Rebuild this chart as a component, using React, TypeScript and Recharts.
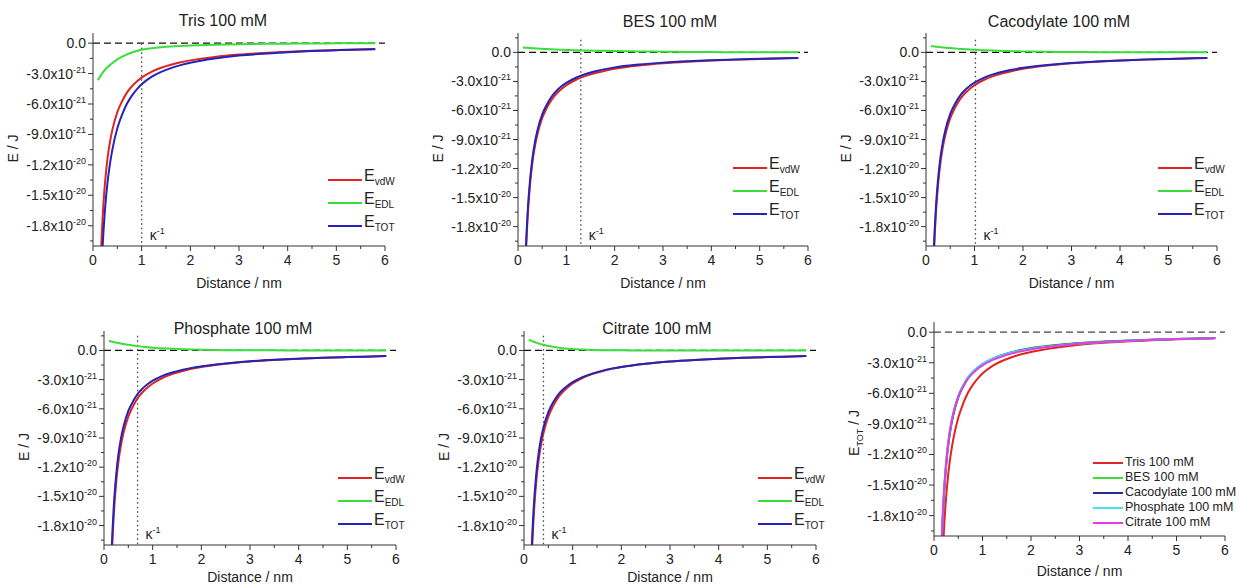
import React from 'react';
import { LineChart, Line, XAxis, YAxis, ReferenceLine, Legend } from 'recharts';

// distance between particles, nm
const distance = [0.1, 0.15, 0.2, 0.25, 0.3, 0.35, 0.4, 0.5, 0.6, 0.7, 0.8, 0.9, 1.0, 1.2, 1.4, 1.6, 1.8, 2.0, 2.5, 3.0, 3.5, 4.0, 4.5, 5.0, 5.5, 5.8];

// all energies below in units of 1e-21 J
const vdW = [-34, -22.7, -17, -13.6, -11.3, -9.7, -8.5, -6.8, -5.7, -4.85, -4.25, -3.78, -3.4, -2.83, -2.43, -2.13, -1.89, -1.7, -1.36, -1.13, -0.97, -0.85, -0.75, -0.68, -0.62, -0.58];

const edlTris = [-3.65, -3.25, -2.9, -2.6, -2.35, -2.15, -1.95, -1.6, -1.32, -1.1, -0.92, -0.78, -0.66, -0.5, -0.4, -0.33, -0.28, -0.24, -0.16, -0.1, -0.07, -0.05, -0.03, -0.02, -0.01, -0.01];
const totTris = [-37.65, -25.95, -19.9, -16.2, -13.65, -11.85, -10.45, -8.4, -7.02, -5.95, -5.17, -4.56, -4.06, -3.33, -2.83, -2.46, -2.17, -1.94, -1.52, -1.23, -1.04, -0.9, -0.78, -0.7, -0.63, -0.59];

const edlBes = [0.5, 0.48, 0.47, 0.45, 0.43, 0.42, 0.4, 0.37, 0.34, 0.32, 0.29, 0.27, 0.25, 0.21, 0.19, 0.17, 0.16, 0.15, 0.1, 0.07, 0.05, 0.03, 0.02, 0.01, 0.01, 0];
const totBes = [-33.5, -22.22, -16.53, -13.15, -10.87, -9.28, -8.1, -6.43, -5.36, -4.53, -3.96, -3.51, -3.15, -2.62, -2.24, -1.96, -1.73, -1.55, -1.26, -1.06, -0.92, -0.82, -0.73, -0.67, -0.61, -0.58];

const edlCacodylate = [0.65, 0.62, 0.59, 0.56, 0.53, 0.51, 0.48, 0.44, 0.4, 0.36, 0.33, 0.3, 0.27, 0.22, 0.18, 0.15, 0.12, 0.1, 0.06, 0.04, 0.02, 0.01, 0.01, 0, 0, 0];
const totCacodylate = [-33.35, -22.08, -16.41, -13.04, -10.77, -9.19, -8.02, -6.36, -5.3, -4.49, -3.92, -3.48, -3.13, -2.61, -2.25, -1.98, -1.77, -1.6, -1.3, -1.09, -0.95, -0.84, -0.74, -0.68, -0.62, -0.58];

const edlPhosphate = [1.0, 0.93, 0.87, 0.81, 0.76, 0.71, 0.66, 0.58, 0.5, 0.44, 0.38, 0.33, 0.29, 0.22, 0.17, 0.13, 0.1, 0.07, 0.03, 0.02, 0.01, 0, 0, 0, 0, 0];
const totPhosphate = [-33, -21.77, -16.13, -12.79, -10.54, -8.99, -7.84, -6.22, -5.2, -4.41, -3.87, -3.45, -3.11, -2.61, -2.26, -2.0, -1.79, -1.63, -1.33, -1.11, -0.96, -0.85, -0.75, -0.68, -0.62, -0.58];

const edlCitrate = [1.12, 1.0, 0.9, 0.8, 0.72, 0.65, 0.58, 0.46, 0.37, 0.29, 0.23, 0.18, 0.14, 0.09, 0.05, 0.03, 0.02, 0.01, 0, 0, 0, 0, 0, 0, 0, 0];
const totCitrate = [-32.88, -21.7, -16.1, -12.8, -10.58, -9.05, -7.92, -6.34, -5.33, -4.56, -4.02, -3.6, -3.26, -2.74, -2.38, -2.1, -1.87, -1.69, -1.36, -1.13, -0.97, -0.85, -0.75, -0.68, -0.62, -0.58];

const buffers = ['Tris 100 mM', 'BES 100 mM', 'Cacodylate 100 mM', 'Phosphate 100 mM', 'Citrate 100 mM'];
const debyeLength = [1.0, 1.3, 1.02, 0.69, 0.4];
const edlSeries = [edlTris, edlBes, edlCacodylate, edlPhosphate, edlCitrate];
const totSeries = [totTris, totBes, totCacodylate, totPhosphate, totCitrate];

const xTicks = [0, 0.5, 1, 1.5, 2, 2.5, 3, 3.5, 4, 4.5, 5, 5.5, 6];
const yTicksLow = [0, -1.5, -3, -4.5, -6, -7.5, -9, -10.5, -12, -13.5, -15, -16.5, -18, -19.5];
const yTicksHigh = [1.5, ...yTicksLow];

const FONT = '"Liberation Sans", Arial, sans-serif';
const INK = '#222';
const AXIS = '#333';

const componentColors = { vdw: '#e02424', edl: '#3ade3a', tot: '#2424b8' };
const bufferColors = ['#e02424', '#3ade3a', '#2a2a8e', '#44e4f4', '#e23ee2'];

// page positions of each panel (plot area) and its decorations
const layouts = [
  { plotX: 93, plotY: 33, w: 292, h: 213, yTop: 1, kTop: 0, title: [223, 21], legend: [328, 168], xl: 42 },
  { plotX: 518, plotY: 33, w: 290, h: 213, yTop: 2, kTop: 1.3, title: [670, 22], legend: [733, 156], xl: 42 },
  { plotX: 926, plotY: 33, w: 291, h: 213, yTop: 2, kTop: 1.3, title: [1059, 22], legend: [1158, 156], xl: 42 },
  { plotX: 104, plotY: 331, w: 292, h: 214, yTop: 2, kTop: 1.5, title: [243, 329], legend: [338, 466], xl: 37 },
  { plotX: 524, plotY: 331, w: 292, h: 214, yTop: 2, kTop: 1.5, title: [657, 329], legend: [758, 466], xl: 37 },
];
const summaryLayout = { plotX: 934, plotY: 322, w: 291, h: 214, yTop: 1, legend: [1093, 455], xl: 40 };

const YTick = (props: any) => {
  const { x, y, payload } = props;
  const v = payload.value;
  const major = Math.abs(v % 3) < 1e-9;
  if (!major) return <line x1={x} x2={x - 3} y1={y} y2={y} stroke={AXIS} />;
  let mant = '0.0';
  let exp = '';
  if (v !== 0) {
    if (Math.abs(v) < 10) { mant = v.toFixed(1); exp = '-21'; }
    else { mant = (v / 10).toFixed(1); exp = '-20'; }
  }
  return (
    <g>
      <line x1={x} x2={x - 5} y1={y} y2={y} stroke={AXIS} />
      <text x={x - 7} y={y + 5} textAnchor="end" fontSize={14} fontFamily={FONT} fill={INK}>
        {exp ? <>{mant}x10<tspan dy={-6} fontSize={9}>{exp}</tspan></> : mant}
      </text>
    </g>
  );
};

const XTick = (props: any) => {
  const { x, y, payload } = props;
  const v = payload.value;
  if (!Number.isInteger(v)) return <line x1={x} x2={x} y1={y} y2={y + 3} stroke={AXIS} />;
  return (
    <g>
      <line x1={x} x2={x} y1={y} y2={y + 5} stroke={AXIS} />
      <text x={x} y={y + 19} textAnchor="middle" fontSize={14} fontFamily={FONT} fill={INK}>{v}</text>
    </g>
  );
};

const makeXLabel = (dy: number) => (p: any) => {
  const vb = p.viewBox;
  return (
    <text x={vb.x + vb.width / 2} y={vb.y + dy} textAnchor="middle" fontSize={14} fontFamily={FONT} fill={INK}>
      Distance / nm
    </text>
  );
};

const makeYLabel = (sub: string | null, shift: number) => (p: any) => {
  const vb = p.viewBox;
  const cx = vb.x + vb.width - 80;
  const cy = vb.y + vb.height / 2 + shift;
  return (
    <text x={cx} y={cy + 5} textAnchor="middle" fontSize={14} fontFamily={FONT} fill={INK}
      transform={`rotate(-90, ${cx}, ${cy})`}>
      E{sub ? <><tspan dy={4} fontSize={9}>{sub}</tspan><tspan dy={-4}> / J</tspan></> : ' / J'}
    </text>
  );
};

const kappaLabel = (p: any) => {
  const vb = p.viewBox;
  return (
    <text x={vb.x + 8} y={vb.y + vb.height - 6} fontSize={14} fontFamily={FONT} fill={INK}>
      κ<tspan dy={-6} fontSize={9}>-1</tspan>
    </text>
  );
};

type Entry = { key: string; name: string; sub?: string; color: string };

const makeLegend = (items: Entry[], rowH: number, swatch: number) => (props: any) => {
  const payload = props.payload || [];
  return (
    <div style={{ fontFamily: FONT, color: INK }}>
      {items.map((s) => {
        const found = payload.find((p: any) => p.value === s.name);
        const color = found ? found.color : s.color;
        return (
          <div key={s.key} style={{ display: 'flex', alignItems: 'center', height: rowH, whiteSpace: 'nowrap' }}>
            <div style={{ width: swatch, height: 2, background: color, marginRight: 2 }} />
            {s.sub ? (
              <span style={{ fontSize: 16, lineHeight: '16px' }}>E<sub style={{ fontSize: 10 }}>{s.sub}</sub></span>
            ) : (
              <span style={{ fontSize: 12.5, lineHeight: '13px' }}>{s.name}</span>
            )}
          </div>
        );
      })}
    </div>
  );
};

const Title = ({ pos, text }: { pos: number[]; text: string }) => (
  <div style={{
    position: 'absolute', left: pos[0], top: pos[1], transform: 'translate(-50%, -50%)',
    fontFamily: FONT, fontSize: 16, color: INK, whiteSpace: 'nowrap',
  }}>{text}</div>
);

const componentEntries: Entry[] = [
  { key: 'vdw', name: 'vdW', sub: 'vdW', color: componentColors.vdw },
  { key: 'edl', name: 'EDL', sub: 'EDL', color: componentColors.edl },
  { key: 'tot', name: 'TOT', sub: 'TOT', color: componentColors.tot },
];

const BufferPanel = ({ idx }: { idx: number }) => {
  const l = layouts[idx];
  const left = l.plotX - 95;
  const top = l.plotY - 15;
  const data = distance.map((d, i) => ({ d, vdw: vdW[i], edl: edlSeries[idx][i], tot: totSeries[idx][i] }));
  const k = debyeLength[idx];
  return (
    <>
      <div style={{ position: 'absolute', left, top }}>
        <LineChart width={95 + l.w + 15} height={15 + l.h + 45} data={data}
          margin={{ top: 15, right: 15, bottom: 0, left: 0 }}>
          <XAxis dataKey="d" type="number" domain={[0, 6]} ticks={xTicks} interval={0} allowDataOverflow
            tick={XTick} tickLine={false} tickSize={0} tickMargin={0} height={45}
            axisLine={{ stroke: AXIS }} label={makeXLabel(l.xl)} />
          <YAxis type="number" domain={[-20, l.yTop]} ticks={l.yTop > 1 ? yTicksHigh : yTicksLow} interval={0}
            allowDataOverflow tick={YTick} tickLine={false} tickSize={0} tickMargin={0} width={95}
            axisLine={{ stroke: AXIS }} label={makeYLabel(null, 9)} />
          <ReferenceLine y={0} stroke="#111" strokeDasharray="7 4" strokeWidth={1.3} />
          <ReferenceLine segment={[{ x: k, y: l.kTop }, { x: k, y: -20 }]} stroke="#444"
            strokeDasharray="1.5 3" strokeWidth={1.3} label={kappaLabel} />
          <Line dataKey="vdw" name="vdW" type="monotone" stroke={componentColors.vdw} strokeWidth={2} dot={false} isAnimationActive={false} />
          <Line dataKey="edl" name="EDL" type="monotone" stroke={componentColors.edl} strokeWidth={2} dot={false} isAnimationActive={false} />
          <Line dataKey="tot" name="TOT" type="monotone" stroke={componentColors.tot} strokeWidth={2} dot={false} isAnimationActive={false} />
          <Legend layout="vertical" verticalAlign="middle" align="center"
            wrapperStyle={{ left: l.legend[0] - left, top: l.legend[1] - top, width: 'auto', height: 'auto' }}
            content={makeLegend(componentEntries, 23, 34)} />
        </LineChart>
      </div>
      <Title pos={l.title} text={buffers[idx]} />
    </>
  );
};

const summaryKeys = ['tris', 'bes', 'cacodylate', 'phosphate', 'citrate'];
const summaryEntries: Entry[] = buffers.map((b, i) => ({ key: summaryKeys[i], name: b, color: bufferColors[i] }));

const SummaryPanel = () => {
  const l = summaryLayout;
  const left = l.plotX - 95;
  const top = l.plotY - 15;
  const data = distance.map((d, i) => {
    const row: any = { d };
    summaryKeys.forEach((key, j) => { row[key] = totSeries[j][i]; });
    return row;
  });
  return (
    <div style={{ position: 'absolute', left, top }}>
      <LineChart width={95 + l.w + 12} height={15 + l.h + 45} data={data}
        margin={{ top: 15, right: 12, bottom: 0, left: 0 }}>
        <XAxis dataKey="d" type="number" domain={[0, 6]} ticks={xTicks} interval={0} allowDataOverflow
          tick={XTick} tickLine={false} tickSize={0} tickMargin={0} height={45}
          axisLine={{ stroke: AXIS }} label={makeXLabel(l.xl)} />
        <YAxis type="number" domain={[-20, l.yTop]} ticks={yTicksLow} interval={0}
          allowDataOverflow tick={YTick} tickLine={false} tickSize={0} tickMargin={0} width={95}
          axisLine={{ stroke: AXIS }} label={makeYLabel('TOT', 4)} />
        <ReferenceLine y={0} stroke="#444" strokeDasharray="7 4" strokeWidth={1.3} />
        {summaryEntries.map((s) => (
          <Line key={s.key} dataKey={s.key} name={s.name} type="monotone" stroke={s.color} strokeWidth={2}
            dot={false} isAnimationActive={false} />
        ))}
        <Legend layout="vertical" verticalAlign="middle" align="center"
          wrapperStyle={{ left: l.legend[0] - left, top: l.legend[1] - top, width: 'auto', height: 'auto' }}
          content={makeLegend(summaryEntries, 15, 30)} />
      </LineChart>
    </div>
  );
};

export default function App() {
  return (
    <div style={{
      position: 'absolute', left: 0, top: 0, width: 1239, height: 587,
      background: '#fff', overflow: 'hidden', fontFamily: FONT,
    }}>
      {layouts.map((_, i) => <BufferPanel key={i} idx={i} />)}
      <SummaryPanel />
    </div>
  );
}
